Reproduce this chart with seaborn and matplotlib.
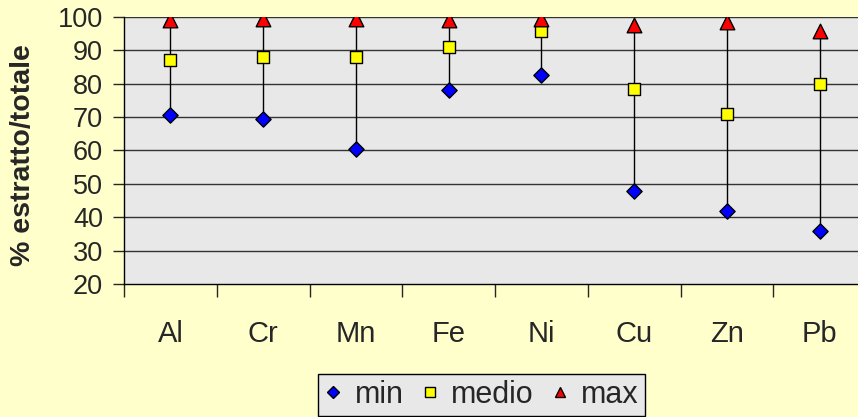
import numpy as np
import pandas as pd
import seaborn as sns
import matplotlib.pyplot as plt
from matplotlib.lines import Line2D

elements = ['Al', 'Cr', 'Mn', 'Fe', 'Ni', 'Cu', 'Zn', 'Pb']
v_min = [70.5, 69.5, 60.5, 78, 82.5, 48, 42, 36]
v_medio = [87, 88, 88, 91, 95.7, 78.5, 71, 80]
v_max = [99, 99.5, 99.5, 99, 99.3, 97.5, 98.4, 95.8]

df = pd.DataFrame({'el': elements, 'pos': np.arange(len(elements)),
                   'min': v_min, 'medio': v_medio, 'max': v_max})

sns.set_style('white')
plt.rcParams['font.family'] = ['Liberation Sans', 'DejaVu Sans']

fig = plt.figure(figsize=(8.58, 4.17), dpi=100, facecolor='#FFFFCC')
ax = fig.add_axes([124 / 858, 133 / 417, 742 / 858, 267 / 417])
ax.set_facecolor('#E8E8E8')

# grid lines
for yv in range(30, 101, 10):
    ax.axhline(yv, color='#333333', lw=1.0, zorder=0)

# high-low lines
ax.vlines(df['pos'], df['min'], df['max'], color='black', lw=1.0, zorder=1)

sns.scatterplot(data=df, x='pos', y='min', marker='D', s=60, color='#0000FF',
                edgecolor='black', linewidth=1.0, ax=ax, zorder=3)
sns.scatterplot(data=df, x='pos', y='medio', marker='s', s=75, color='#FFFF00',
                edgecolor='black', linewidth=1.0, ax=ax, zorder=3)
sns.scatterplot(data=df, x='pos', y='max', marker='^', s=110, color='#FF0000',
                edgecolor='black', linewidth=1.0, ax=ax, zorder=4)

ax.set_xlim(-0.5, 7.5)
ax.set_ylim(20, 100)
ax.set_yticks(range(20, 101, 10))
ax.tick_params(axis='y', labelsize=19.5, length=8, width=1, direction='out', left=True, pad=7)

# boundary ticks, labels at the centres
ax.set_xticks(np.arange(-0.5, 7.6, 1))
ax.set_xticklabels([])
ax.tick_params(axis='x', which='major', length=9, width=1, direction='out', bottom=True)
ax.set_xticks(df['pos'], minor=True)
ax.set_xticklabels(elements, minor=True)
ax.tick_params(axis='x', which='minor', length=0, labelsize=21, pad=26)

ax.set_xlabel('')
ax.set_ylabel('')
fig.text(23 / 858, 1 - 155 / 417, '% estratto/totale', rotation=90, ha='center',
         va='center', fontsize=20.5, fontweight='bold')

for side in ['left', 'bottom']:
    ax.spines[side].set_color('black')
    ax.spines[side].set_linewidth(1.0)
ax.spines['top'].set_visible(False)
ax.spines['right'].set_visible(False)

handles = [
    Line2D([], [], marker='D', ls='', ms=6, mfc='#0000FF', mec='black', mew=1),
    Line2D([], [], marker='s', ls='', ms=6.5, mfc='#FFFF00', mec='black', mew=1),
    Line2D([], [], marker='^', ls='', ms=7.5, mfc='#FF0000', mec='black', mew=1),
]
leg = fig.legend(handles, ['min', 'medio', 'max'], ncol=3, loc='upper left',
                 bbox_to_anchor=(318 / 858, 1 - 374 / 417), fontsize=22,
                 frameon=True, fancybox=False, facecolor='#E8E8E8', edgecolor='black',
                 handlelength=0.6, handletextpad=0.4, columnspacing=0.55,
                 borderpad=0.2, borderaxespad=0, framealpha=1)
leg.get_frame().set_linewidth(1.0)

fig.savefig('out.png', dpi=100, facecolor=fig.get_facecolor())
